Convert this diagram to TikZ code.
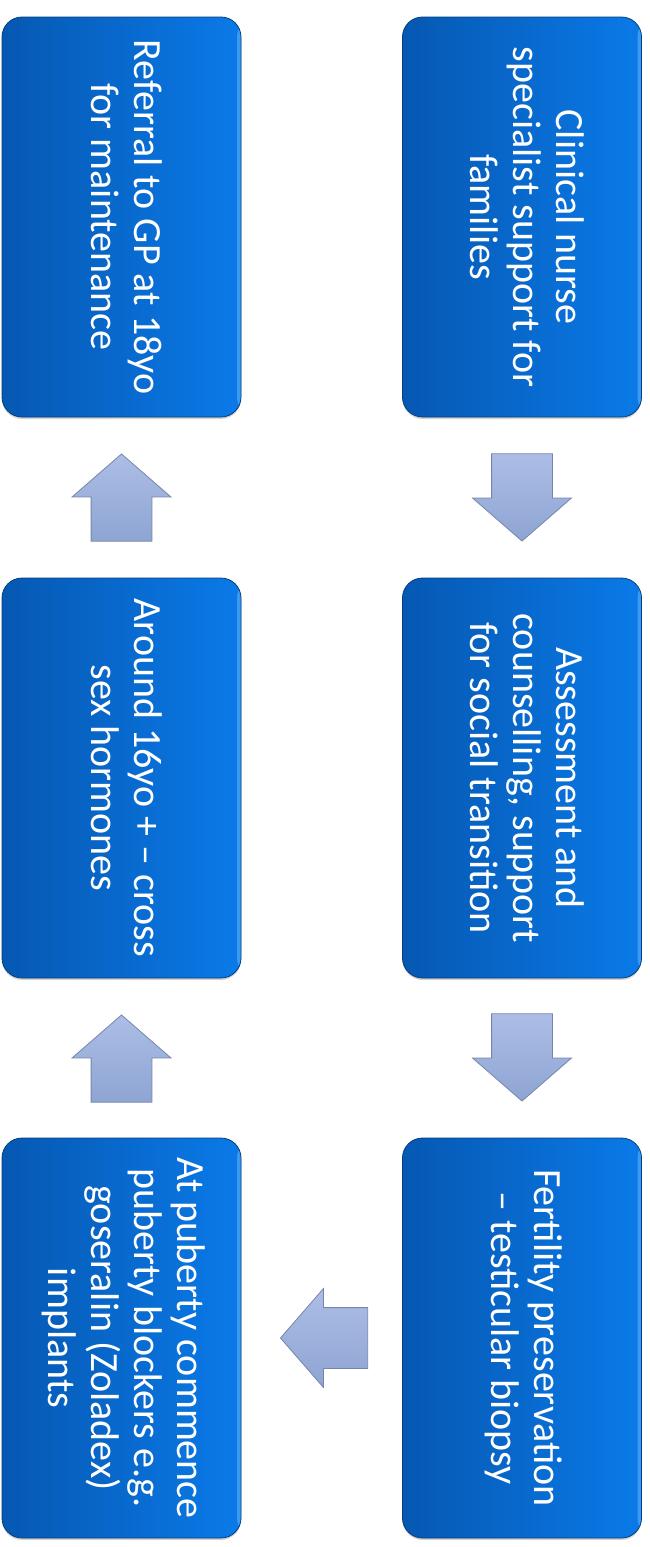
\documentclass[tikz,border=0pt]{standalone}
\usepackage{fontspec}
\setmainfont{Carlito}
\usepackage{graphicx}
\usetikzlibrary{shapes.arrows,shadows,calc}

\definecolor{boxdark}{RGB}{6,88,178}
\definecolor{boxlight}{RGB}{10,122,232}
\definecolor{boxedge}{RGB}{80,170,250}
\definecolor{arrowtop}{RGB}{172,190,230}
\definecolor{arrowbottom}{RGB}{142,164,210}
\definecolor{arrowedge}{RGB}{118,134,170}

% testo ruotato su piu' righe
\newcommand{\vlines}[1]{\rotatebox{-90}{\begin{tabular}{@{}c@{}}#1\end{tabular}}}

\tikzset{
  stagebox/.style={rectangle, rounded corners=10pt, minimum width=119.5pt, minimum height=200pt,
    inner sep=0pt, left color=boxdark, right color=boxlight, draw=boxdark!70!black, line width=0.4pt,
    text=white, font=\fontsize{20pt}{21.5pt}\selectfont,
    drop shadow={opacity=0.35, shadow xshift=0pt, shadow yshift=-1pt},
    path picture={\fill[boxedge, opacity=0.7] ([xshift=-2pt]path picture bounding box.north east)
      rectangle (path picture bounding box.south east);}},
  blockarrow/.style={single arrow, single arrow head extend=9.5pt, single arrow tip angle=98,
    minimum width=49pt, minimum height=42.5pt, inner sep=15pt, anchor=tail,
    top color=arrowtop, bottom color=arrowbottom, draw=arrowedge, line width=0.4pt}
}

\begin{document}
\begin{tikzpicture}[x=0.5pt,y=-0.5pt]
    \useasboundingbox (0,0) rectangle (649,1547);

    % Colonna destra
    \node[stagebox] (nurse) at (522,217) {\vlines{Clinical nurse\\specialist support for\\families}};
    \node[stagebox] (assess) at (522,778) {\vlines{Assessment and\\counselling, support\\for social transition}};
    \node[stagebox] (fertility) at (522,1338) {\vlines{Fertility preservation\\– testicular biopsy}};

    % Colonna sinistra
    \node[stagebox] (puberty) at (121.5,1338) {\vlines{At puberty commence\\puberty blockers e.g.\\goseralin (Zoladex)\\implants}};
    \node[stagebox] (hormones) at (121.5,778) {\vlines{Around 16yo + – cross\\sex hormones}};
    \node[stagebox] (referral) at (121.5,217) {\vlines{Referral to GP at 18yo\\for maintenance}};

    % Frecce tra i passaggi
    \node[blockarrow, shape border rotate=270] (down1) at ([yshift=-18pt]nurse.south) {};
    \node[blockarrow, shape border rotate=270] (down2) at ([yshift=-17.5pt]assess.south) {};
    \node[blockarrow, shape border rotate=180] (left1) at ([xshift=-17pt]fertility.west) {};
    \node[blockarrow, shape border rotate=90] (up1) at ([yshift=18pt]hormones.north) {};
    \node[blockarrow, shape border rotate=90] (up2) at ([yshift=17.5pt]puberty.north) {};
\end{tikzpicture}
\end{document}
